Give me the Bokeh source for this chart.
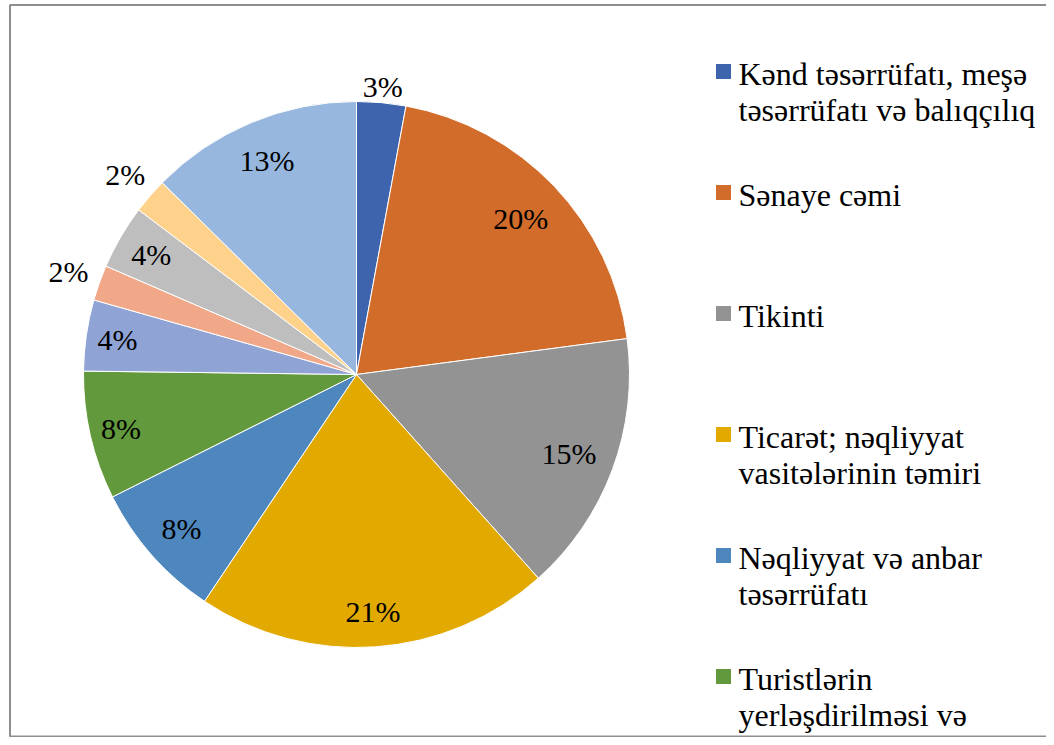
import math
from bokeh.plotting import figure
from bokeh.models import Range1d, ColumnDataSource
from bokeh.core.properties import value
from bokeh.embed import file_html
from bokeh.resources import INLINE

# ---- data ----
shares = [2.9, 20.0, 15.5, 21.0, 8.2, 7.6, 4.2, 2.1, 3.8, 2.1, 12.6]
pct_labels = ["3%", "20%", "15%", "21%", "8%", "8%", "4%", "2%", "4%", "2%", "13%"]
colors = ["#3D64AD", "#D26C2B", "#939393", "#E2AA00", "#4E87BE", "#62993C",
          "#8FA3D4", "#F0A889", "#BEBEBE", "#FED28A", "#97B7DF"]
legend_labels = [
    "Kənd təsərrüfatı, meşə\ntəsərrüfatı və balıqçılıq",
    "Sənaye cəmi",
    "Tikinti",
    "Ticarət; nəqliyyat\nvasitələrinin təmiri",
    "Nəqliyyat və anbar\ntəsərrüfatı",
    "Turistlərin\nyerləşdirilməsi və\nictimai iaşə",
]
# label placement (fraction of radius) - style
label_rfrac = [1.06, 0.83, 0.83, 0.87, 0.855, 0.885, 0.885, 1.12, 0.87, 1.12, 0.85]

W, H = 1046, 737
def px(xp):
    return xp
def py(yp):
    return H - yp

p = figure(width=W, height=H, output_backend="svg", toolbar_location=None,
           x_range=Range1d(0, W), y_range=Range1d(0, H), min_border=0,
           outline_line_color=None, background_fill_color="white",
           border_fill_color="white")
p.axis.visible = False
p.grid.visible = False

cx, cy, R = px(356), py(374), 273

total = sum(shares)
starts, ends, mids = [], [], []
acc = 0.0
for s in shares:
    a0 = acc / total * 2 * math.pi
    acc += s
    a1 = acc / total * 2 * math.pi
    starts.append(math.pi / 2 - a0)
    ends.append(math.pi / 2 - a1)
    mids.append((a0 + a1) / 2)

src = ColumnDataSource(dict(start=starts, end=ends, color=colors))
p.wedge(x=cx, y=cy, radius=R, start_angle="start", end_angle="end",
        direction="clock", fill_color="color", line_color="white",
        line_width=1, source=src)

lx = [cx + f * R * math.sin(m) for f, m in zip(label_rfrac, mids)]
ly = [cy + f * R * math.cos(m) for f, m in zip(label_rfrac, mids)]
p.text(x=lx, y=ly, text=pct_labels, text_font=value("Liberation Serif"),
       text_font_size="30px", text_color="black", text_align="center",
       text_baseline="middle")

# legend
sq_x, txt_x = px(723), px(738)
base0, step, lstep = 73, 121, 36
tx, ty, tt = [], [], []
sqx, sqy = [], []
for i, lab in enumerate(legend_labels):
    b = base0 + i * step
    sqx.append(sq_x)
    sqy.append(py(b - 2))
    for j, line in enumerate(lab.split("\n")):
        tx.append(txt_x)
        ty.append(py(b + j * lstep))
        tt.append(line)
p.scatter(x=sqx, y=sqy, marker="square", size=15, fill_color=colors[:len(legend_labels)],
          line_color=None)
p.text(x=tx, y=ty, text=tt, text_font=value("Liberation Serif"),
       text_font_size="32px", text_color="black", text_align="left",
       text_baseline="alphabetic")

# border frame (its right side and bottom lie beyond the visible area)
p.multi_line(xs=[[px(1060), px(9.5), px(9.5), px(1060)]],
             ys=[[py(4.5), py(4.5), py(736), py(736)]],
             line_color="#8e8e8e", line_width=2)

open("out.html", "w").write(file_html(p, INLINE))
